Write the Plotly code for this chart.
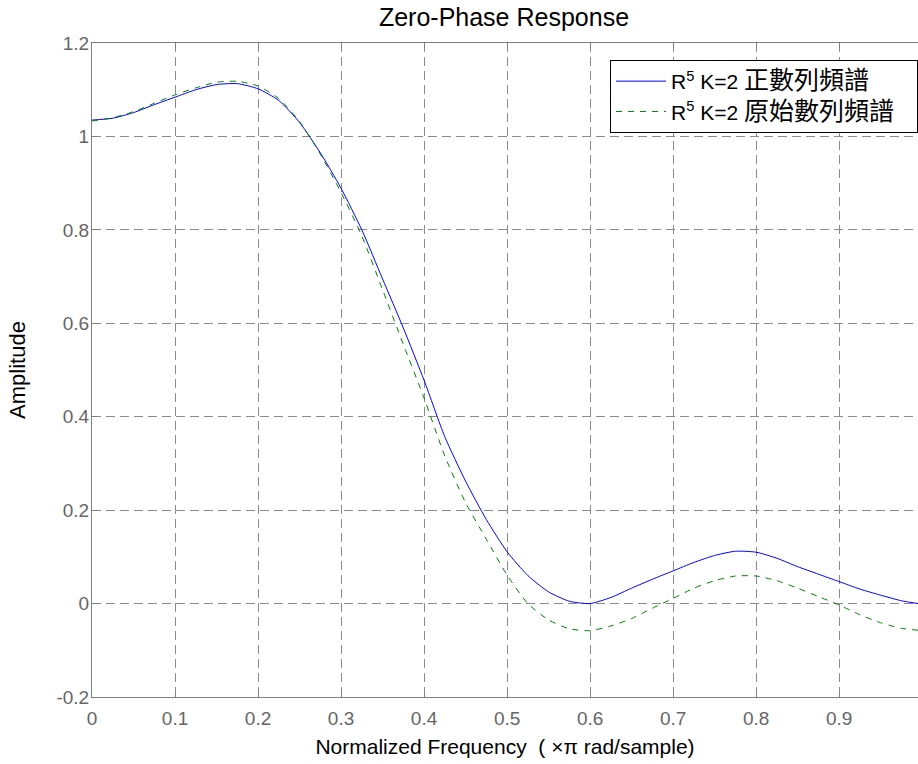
import plotly.graph_objects as go

freq = [0, 0.025, 0.05, 0.075, 0.1, 0.125, 0.15, 0.175, 0.2, 0.225, 0.25, 0.275,
        0.3, 0.325, 0.35, 0.375, 0.4, 0.425, 0.45, 0.475, 0.5, 0.525, 0.55, 0.575,
        0.6, 0.625, 0.65, 0.675, 0.7, 0.725, 0.75, 0.775, 0.8, 0.825, 0.85, 0.875,
        0.9, 0.925, 0.95, 0.975, 0.995]

amp_positive = [1.035, 1.039, 1.051, 1.068, 1.084, 1.100, 1.111, 1.113, 1.102, 1.077,
                1.030, 0.965, 0.889, 0.800, 0.695, 0.590, 0.478, 0.357, 0.262, 0.180,
                0.111, 0.060, 0.025, 0.005, 0.000, 0.013, 0.033, 0.052, 0.070, 0.088,
                0.103, 0.112, 0.110, 0.097, 0.079, 0.063, 0.047, 0.031, 0.018, 0.006,
                0.000]

amp_original = [1.033, 1.040, 1.053, 1.071, 1.089, 1.104, 1.116, 1.118, 1.108, 1.081,
                1.032, 0.962, 0.880, 0.787, 0.672, 0.555, 0.440, 0.316, 0.216, 0.138,
                0.061, 0.000, -0.035, -0.054, -0.058, -0.048, -0.032, -0.010, 0.011,
                0.033, 0.049, 0.059, 0.059, 0.049, 0.033, 0.015, -0.003, -0.024,
                -0.041, -0.053, -0.057]

CJK = '<span style="font-size:25px">{}</span>'
PAD = "&nbsp;" * 3
name_pos = "R<sup>5</sup> K=2 " + CJK.format("正數列頻譜") + PAD
name_orig = "R<sup>5</sup> K=2 " + CJK.format("原始數列頻譜") + PAD

x_ticks = [0, 0.1, 0.2, 0.3, 0.4, 0.5, 0.6, 0.7, 0.8, 0.9]
x_ticklabels = ["0", "0.1", "0.2", "0.3", "0.4", "0.5", "0.6", "0.7", "0.8", "0.9"]
y_ticks = [-0.2, 0, 0.2, 0.4, 0.6, 0.8, 1.0, 1.2]
y_ticklabels = ["-0.2", "0", "0.2", "0.4", "0.6", "0.8", "1", "1.2"]

FONT = "Liberation Sans, Arial, Noto Sans CJK TC, sans-serif"

fig = go.Figure()
fig.add_trace(go.Scatter(x=freq, y=amp_positive, mode="lines", name=name_pos,
                         line=dict(color="#0000ff", width=1, shape="spline", smoothing=0.6)))
fig.add_trace(go.Scatter(x=freq, y=amp_original, mode="lines", name=name_orig,
                         line=dict(color="#008000", width=1, dash="6px,6px",
                                   shape="spline", smoothing=0.6)))

axis_common = dict(showline=True, linecolor="#7f7f7f", linewidth=1,
                   showgrid=True, gridcolor="#8a8a8a", gridwidth=1, griddash="9px,5px",
                   ticks="inside", ticklen=5, tickcolor="#7f7f7f",
                   tickfont=dict(family=FONT, size=19, color="#666666"),
                   zeroline=False)

fig.update_layout(
    width=918, height=764,
    paper_bgcolor="white", plot_bgcolor="white",
    margin=dict(l=92, r=0, t=43, b=67),
    title=dict(text="Zero-Phase Response", x=0.549, xanchor="center", y=0.977, yanchor="middle",
               font=dict(family=FONT, size=25, color="black")),
    xaxis=dict(range=[0, 0.995], tickvals=x_ticks, ticktext=x_ticklabels, mirror="ticks",
               ticklabelstandoff=4,
               title=dict(text="Normalized Frequency  ( ×π rad/sample)", standoff=11,
                          font=dict(family=FONT, size=21, color="black")),
               **axis_common),
    yaxis=dict(range=[-0.2, 1.2], tickvals=y_ticks, ticktext=y_ticklabels,
               ticklabelstandoff=-2,
               title=dict(text="Amplitude", standoff=24,
                          font=dict(family=FONT, size=22, color="black")),
               **axis_common),
    legend=dict(x=1, xanchor="right", y=0.974, yanchor="top",
                bgcolor="white", bordercolor="black", borderwidth=1,
                font=dict(family=FONT, size=21, color="black"),
                itemwidth=50, tracegroupgap=0),
    showlegend=True,
)

fig.write_html("out.html", config={"displayModeBar": False},
               post_script="document.body.style.margin='0';document.body.style.overflow='hidden';")
